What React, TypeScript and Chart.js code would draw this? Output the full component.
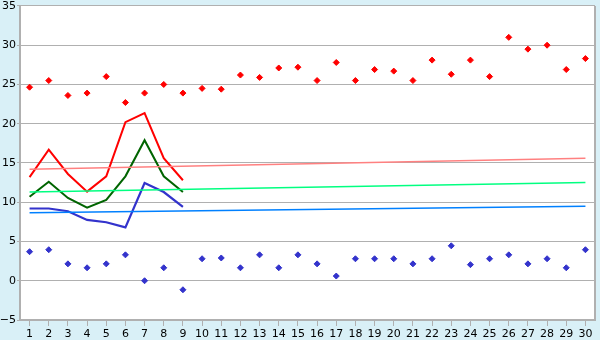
import React, { useEffect, useRef } from "react";
import { Chart, registerables } from "chart.js";

Chart.register(...registerables);

const days = ["1","2","3","4","5","6","7","8","9","10","11","12","13","14","15","16","17","18","19","20","21","22","23","24","25","26","27","28","29","30"];

const highPoints = [24.65, 25.5, 23.6, 23.9, 26.0, 22.7, 23.9, 25.0, 23.9, 24.5, 24.4, 26.2, 25.9, 27.1, 27.2, 25.5, 27.8, 25.5, 26.9, 26.7, 25.5, 28.1, 26.3, 28.1, 26.0, 31.0, 29.5, 30.0, 26.9, 28.3];
const lowPoints = [3.7, 3.95, 2.15, 1.65, 2.15, 3.3, 0.0, 1.65, -1.15, 2.8, 2.9, 1.65, 3.3, 1.65, 3.3, 2.15, 0.6, 2.8, 2.8, 2.8, 2.15, 2.8, 4.45, 2.05, 2.8, 3.3, 2.15, 2.8, 1.65, 3.95];

const maxLine = [13.2, 16.7, 13.6, 11.35, 13.3, 20.2, 21.35, 15.6, 12.8];
const meanLine = [10.7, 12.6, 10.55, 9.3, 10.3, 13.3, 17.9, 13.3, 11.3];
const minLine = [9.2, 9.2, 8.85, 7.75, 7.45, 6.8, 12.45, 11.3, 9.4];

const maxTrend = [14.2, 15.6];
const meanTrend = [11.3, 12.5];
const minTrend = [8.65, 9.5];

const yTicks = [-5, 0, 5, 10, 15, 20, 25, 30, 35];

const frame = {
  id: "frame",
  beforeDraw(chart: any) {
    const { ctx, width, height, chartArea } = chart;
    ctx.save();
    ctx.fillStyle = "#d9f0f7";
    ctx.fillRect(0, 0, width, height);
    ctx.fillStyle = "#ffffff";
    ctx.fillRect(chartArea.left, chartArea.top, chartArea.right - chartArea.left, chartArea.bottom - chartArea.top);
    ctx.restore();
  },
  beforeDatasetsDraw(chart: any) {
    const { ctx, chartArea } = chart;
    ctx.save();
    ctx.strokeStyle = "#b0b0b0";
    ctx.lineWidth = 2;
    ctx.beginPath();
    ctx.moveTo(chartArea.right, chartArea.top);
    ctx.lineTo(chartArea.right, chartArea.bottom);
    ctx.stroke();
    ctx.restore();
  },
};

function trend(vals: number[]) {
  return [
    { x: days[0], y: vals[0] },
    { x: days[days.length - 1], y: vals[1] },
  ];
}

export default function App() {
  const ref = useRef<HTMLCanvasElement>(null);
  useEffect(() => {
    document.body.style.margin = "0";
    const chart = new Chart(ref.current!, {
      type: "line",
      data: {
        labels: days,
        datasets: [
          { data: trend(maxTrend) as any, borderColor: "#ff8080", borderWidth: 1.5, pointRadius: 0, fill: false },
          { data: trend(meanTrend) as any, borderColor: "#00ff80", borderWidth: 1.5, pointRadius: 0, fill: false },
          { data: trend(minTrend) as any, borderColor: "#0080ff", borderWidth: 1.5, pointRadius: 0, fill: false },
          { data: maxLine, borderColor: "#ff0000", borderWidth: 2, pointRadius: 0, fill: false },
          { data: meanLine, borderColor: "#006400", borderWidth: 2, pointRadius: 0, fill: false },
          { data: minLine, borderColor: "#3333cc", borderWidth: 2.2, pointRadius: 0, fill: false },
          { data: highPoints, showLine: false, pointStyle: "rectRot", pointRadius: 3, backgroundColor: "#ff0000", borderColor: "#ff0000", borderWidth: 1 },
          { data: lowPoints, showLine: false, pointStyle: "rectRot", pointRadius: 3, backgroundColor: "#3333cc", borderColor: "#3333cc", borderWidth: 1 },
        ],
      },
      options: {
        animation: false,
        responsive: false,
        layout: { padding: { top: 5, right: 5, left: 0, bottom: 0 } },
        plugins: { legend: { display: false }, tooltip: { enabled: false } },
        elements: { line: { tension: 0 } },
        scales: {
          x: {
            type: "category",
            offset: true,
            grid: { offset: false, drawOnChartArea: false, drawTicks: true, tickLength: 6, color: "#b0b0b0" },
            border: { color: "#b0b0b0", width: 2 },
            ticks: { color: "#000", font: { family: "DejaVu Sans", size: 11 }, padding: 2, maxRotation: 0, autoSkip: false },
            afterFit(scale: any) { scale.height = 20; },
          },
          y: {
            min: -5,
            max: 35,
            afterBuildTicks(scale: any) { scale.ticks = yTicks.map((v) => ({ value: v })); },
            grid: { color: "#b0b0b0", lineWidth: 1, tickLength: 3 },
            border: { color: "#b0b0b0", width: 2 },
            ticks: {
              color: "#000",
              font: { family: "DejaVu Sans", size: 11, lineHeight: 0.9 },
              padding: 1,
              callback: (v: any) => String(v).replace("-", "\u2212"),
            },
            afterFit(scale: any) { scale.width = 20; },
          },
        },
      },
      plugins: [frame],
    });
    return () => chart.destroy();
  }, []);
  return (
    <div style={{ position: "absolute", left: 0, top: 0, width: 600, height: 340 }}>
      <canvas ref={ref} width={600} height={340} />
    </div>
  );
}
